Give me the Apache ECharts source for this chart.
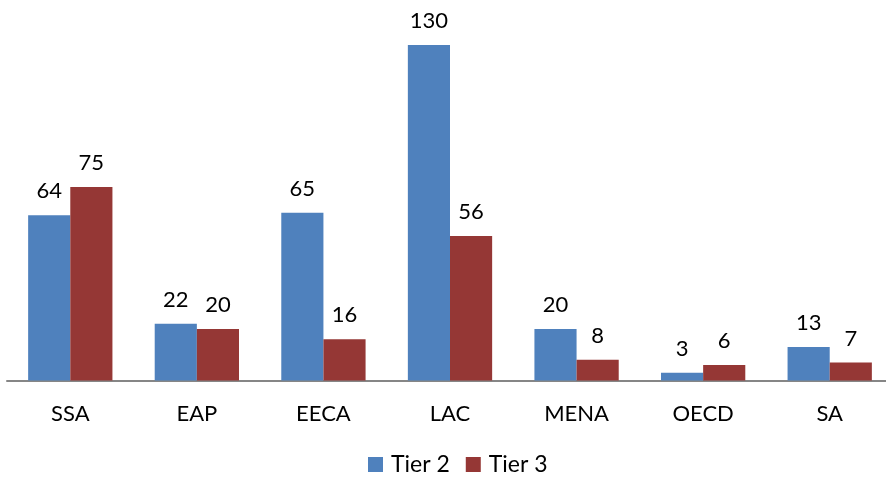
<!DOCTYPE html>
<html>
<head>
<meta charset="utf-8">
<script src="https://cdn.jsdelivr.net/npm/echarts@6/dist/echarts.min.js"></script>
<style>
  html, body { margin: 0; padding: 0; background: #ffffff; }
  #chart { width: 886px; height: 483px; }
</style>
</head>
<body>
<div id="chart"></div>
<script>
// Regions along the category axis
const regions = ['SSA', 'EAP', 'EECA', 'LAC', 'MENA', 'OECD', 'SA'];
// Counts per region for each tier
const tier2 = [64, 22, 65, 130, 20, 3, 13];
const tier3 = [75, 20, 16, 56, 8, 6, 7];
const seriesNames = ['Tier 2', 'Tier 3'];

const FONT = 'Lato, "Open Sans", sans-serif';
const chart = echarts.init(document.getElementById('chart'), null, { renderer: 'canvas' });

const labelStyle = {
  show: true,
  position: 'top',
  distance: 13,
  color: '#000000',
  fontFamily: FONT,
  fontSize: 22
};

chart.setOption({
  animation: false,
  backgroundColor: '#ffffff',
  grid: {
    left: 7, width: 886, top: 45, bottom: 102.5,
    containLabel: false, outerBoundsMode: 'none'
  },
  legend: {
    data: seriesNames,
    bottom: 2,
    left: 363,
    itemWidth: 15,
    itemHeight: 15,
    itemGap: 16,
    icon: 'rect',
    textStyle: { fontFamily: FONT, fontSize: 23, color: '#000000', padding: [0, 0, 0, 3] }
  },
  xAxis: {
    type: 'category',
    data: regions,
    axisLine: { lineStyle: { color: '#868686', width: 2 } },
    axisTick: { show: false },
    axisLabel: { fontFamily: FONT, fontSize: 22, color: '#000000', margin: 22 }
  },
  yAxis: {
    type: 'value',
    min: 0,
    max: 130,
    show: false,
    splitLine: { show: false }
  },
  series: [
    {
      name: seriesNames[0],
      type: 'bar',
      data: tier2,
      barWidth: '33.3%',
      barGap: '0%',
      itemStyle: { color: '#4F81BD' },
      label: labelStyle
    },
    {
      name: seriesNames[1],
      type: 'bar',
      data: tier3,
      barWidth: '33.3%',
      barGap: '0%',
      itemStyle: { color: '#953735' },
      label: labelStyle
    }
  ]
});
</script>
</body>
</html>
